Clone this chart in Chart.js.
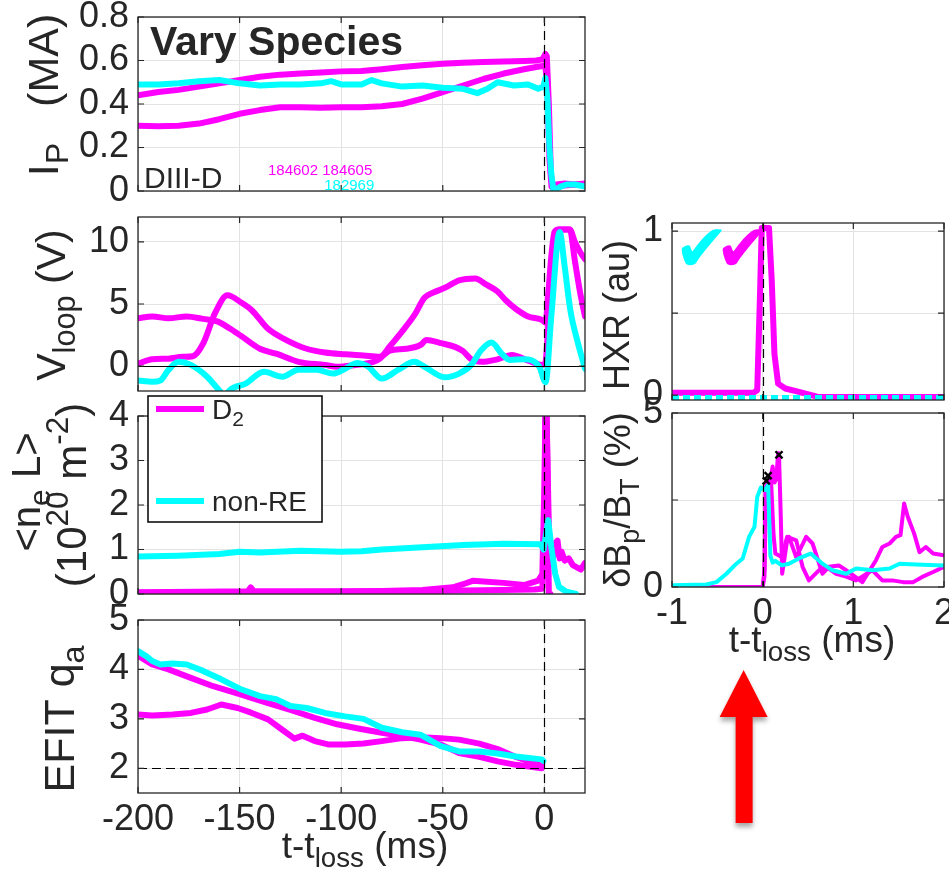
<!DOCTYPE html>
<html>
<head>
<meta charset="utf-8">
<title>Vary Species</title>
<script src="https://cdn.jsdelivr.net/npm/chart.js@4.4.1/dist/chart.umd.min.js"></script>
<style>
  html, body { margin: 0; padding: 0; background: #ffffff; }
  #wrap { position: relative; width: 949px; height: 870px; overflow: hidden; background: #ffffff; }
  #wrap canvas { position: absolute; left: 0; top: 0; }
</style>
</head>
<body>
<div id="wrap">
  <canvas id="cIp" width="949" height="870"></canvas>
  <canvas id="cVl" width="949" height="870"></canvas>
  <canvas id="cNe" width="949" height="870"></canvas>
  <canvas id="cQ" width="949" height="870"></canvas>
  <canvas id="cDb" width="949" height="870"></canvas>
  <canvas id="cHxr" width="949" height="870"></canvas>
</div>
<script>
// ---------------- data: left column, t - t_loss in ms ----------------
// plasma current I_P (MA)
const ipTimeD2a = [-200,-190,-180,-170,-160,-150,-140,-130,-120,-110,-100,-90,-80,-70,-60,-50,-40,-30,-20,-10,-4,-1,0.5,1.2,2.2,3.2,4.3,6,10,15,20];
const ipD2a     = [0.44,0.455,0.465,0.48,0.495,0.51,0.525,0.535,0.54,0.545,0.55,0.552,0.56,0.57,0.578,0.585,0.59,0.593,0.595,0.598,0.6,0.605,0.63,0.62,0.4,0.08,0.01,0.03,0.035,0.03,0.035];
const ipTimeD2b = [-200,-190,-180,-170,-160,-150,-140,-130,-120,-110,-100,-90,-80,-70,-60,-50,-40,-30,-20,-10,-4,-1,0.5,1.5,2.5,3.5,5,10,15,20];
const ipD2b     = [0.30,0.298,0.30,0.31,0.33,0.355,0.372,0.385,0.385,0.383,0.385,0.385,0.39,0.40,0.425,0.455,0.485,0.515,0.54,0.56,0.57,0.575,0.58,0.45,0.15,0.02,0.02,0.025,0.03,0.03];
const ipTimeNonRE = [-200,-190,-180,-170,-160,-150,-140,-130,-120,-110,-105,-100,-90,-85,-80,-70,-60,-50,-40,-33,-28,-23,-15,-8,-3,-0.5,0.5,1.5,2.5,3.4,4.5,6,8,11,15,20];
const ipNonRE     = [0.49,0.49,0.495,0.505,0.51,0.495,0.485,0.49,0.49,0.495,0.505,0.49,0.49,0.51,0.495,0.48,0.485,0.475,0.47,0.45,0.47,0.50,0.485,0.49,0.47,0.48,0.52,0.42,0.2,0.08,0.0,0.01,0.02,0.03,0.03,0.02];

// loop voltage V_loop (V)
const vlTimeD2a = [-200,-193,-185,-176,-168,-161,-155,-149,-140,-132,-121,-108,-102,-93,-85,-81,-76,-70,-64,-59,-55,-49,-42,-34,-29,-23,-19,-14,-8,-1,0.5,2,3.5,5,7,10,12.5,15,17.5,20];
const vlD2a     = [3.85,4.0,3.85,4.0,3.8,3.6,3.05,2.4,1.4,1.0,0.35,0.1,-0.05,0.1,0.3,0.6,1.6,2.8,4.1,5.5,5.9,6.3,6.9,7.05,6.6,6.0,5.3,4.6,4.0,3.7,3.5,6.0,9.0,10.8,11.0,11.0,11.0,10.0,9.2,8.6];
const vlTimeD2b = [-200,-193,-185,-178,-173,-168,-162,-156,-149,-144,-136,-127,-117,-108,-98,-89,-81,-76,-68,-61,-58,-51,-44,-40,-36,-31,-23,-16,-8,-1,0.5,2,3.5,5,7,10,12.5,15,17.5,20];
const vlD2b     = [0.2,0.55,0.6,0.75,0.8,1.8,4.3,5.7,5.1,4.5,3.0,2.1,1.4,1.1,0.95,0.85,0.75,1.25,1.4,1.7,2.1,1.85,1.55,1.2,0.55,0.35,0.55,0.9,0.45,0.1,0.3,3.5,7.5,10.5,11.0,11.0,11.0,8.5,6.0,4.0];
const vlTimeNonRE = [-200,-193,-189,-185,-180,-174,-166,-160,-157,-155,-147,-138,-129,-121,-112,-104,-98,-92,-87,-80,-72,-64,-59,-49,-42,-36,-31,-26,-21,-17,-10,-2.5,0.6,3.4,7.5,10,12.8,16.6,20];
const vlNonRE     = [-1.15,-1.25,-1.15,-0.3,0.35,0.1,-0.85,-1.95,-2.4,-1.95,-1.4,-0.45,-0.85,-0.3,-0.3,-0.6,-0.2,0.25,0.0,-1.0,-0.3,0.35,-0.05,-0.9,-0.6,0.1,1.3,1.9,1.0,0.5,0.55,-0.05,-1.3,4.0,10.8,8.0,4.5,1.8,-0.2];

// line-integrated density <n_e L> (1e20 m^-2)
const neTimeD2a = [-200,-170,-146,-144.5,-143,-120,-100,-80,-60,-45,-40,-35,-30,-20,-10,-3,-1,0,0.8,1.5,2.2,3];
const neD2a     = [0.04,0.05,0.06,0.15,0.06,0.06,0.06,0.07,0.09,0.15,0.22,0.3,0.28,0.25,0.2,0.3,0.45,2.4,5.0,3.0,0.0,0.0];
const neTimeD2b = [-200,-150,-100,-60,-40,-20,-5,-1,0,0.6,1.5,2.5,3.5,4.5,5.5,6.5,7.5,8.5,10,12,14,16,18,20];
const neD2b     = [0.03,0.04,0.05,0.06,0.08,0.09,0.1,0.12,1.0,5.0,3.0,0.9,1.05,0.85,1.15,1.2,0.8,0.95,0.75,0.8,0.65,0.6,0.55,0.7];
const neTimeNonRE = [-200,-180,-160,-150,-140,-120,-100,-90,-80,-60,-40,-20,-2,-0.4,1.9,3.4,5.3,7.2,10.9,15.6];
const neNonRE     = [0.84,0.86,0.9,0.95,0.93,0.97,0.95,0.96,1.0,1.05,1.1,1.13,1.12,1.0,1.66,1.06,0.46,0.16,0.05,0.0];

// edge safety factor q_a from EFIT
const qTimeD2a = [-200,-193,-185,-174,-163,-150,-136,-125,-113,-102,-91,-80,-70,-61,-51,-42,-32,-23,-14,-1.3];
const qD2a     = [4.28,4.1,4.0,3.83,3.66,3.5,3.32,3.18,3.02,2.89,2.8,2.72,2.65,2.58,2.48,2.31,2.23,2.14,2.07,2.0];
const qTimeD2b = [-200,-193,-183,-174,-166,-159,-151,-144,-136,-129,-123,-119,-113,-106,-98,-89,-80,-70,-61,-51,-42,-32,-23,-14,-1.3];
const qD2b     = [3.09,3.07,3.09,3.12,3.19,3.29,3.22,3.12,2.99,2.78,2.6,2.66,2.55,2.48,2.48,2.5,2.55,2.61,2.63,2.61,2.58,2.5,2.39,2.23,2.05];
const qTimeNonRE = [-200,-196,-193,-189,-183,-176,-168,-159,-150,-140,-132,-125,-117,-108,-98,-89,-80,-70,-61,-51,-42,-32,-23,-14,-1.3,-0.5];
const qNonRE     = [4.37,4.27,4.17,4.1,4.12,4.1,3.97,3.8,3.61,3.46,3.4,3.26,3.22,3.12,3.05,3.0,2.82,2.73,2.68,2.45,2.34,2.34,2.30,2.24,2.18,2.15];

// ---------------- data: right column, t - t_loss in ms ----------------
const hxrTimeD2 = [-1,-0.1,-0.06,-0.03,-0.01,0.07,0.1,0.13,0.17,0.25,0.4,0.6,1,2];
const hxrD2     = [0.015,0.015,0.03,0.6,1.02,1.02,0.7,0.25,0.07,0.04,0.02,-0.01,-0.012,-0.012];
const hxrTimeNonRE = [-1,-0.5,0,0.5,1,1.5,2];
const hxrNonRE     = [-0.015,-0.015,-0.015,-0.015,-0.015,-0.015,-0.015];

const dbTimeNonRE = [-1,-0.62,-0.51,-0.40,-0.29,-0.22,-0.15,-0.09,-0.06,-0.02,0.03,0.06,0.085,0.11,0.14,0.21,0.29,0.40,0.53,0.66,0.77,0.92,1.03,1.21,1.40,1.51,1.76,2];
const dbNonRE     = [0.05,0.07,0.14,0.38,0.67,0.82,1.44,1.73,2.59,2.86,2.79,2.93,0.9,0.7,0.75,0.62,0.67,0.82,0.96,0.67,0.48,0.38,0.53,0.48,0.53,0.67,0.64,0.62];
const dbTimeD2a = [-1,-0.5,0.0,0.02,0.04,0.08,0.11,0.13,0.15,0.17,0.18,0.2,0.215,0.27,0.29,0.37,0.48,0.55,0.66,0.73,0.84,0.95,1.1,1.25,1.32,1.40,1.47,1.52,1.56,1.60,1.67,1.73,1.80,1.88,2];
const dbD2a     = [0.0,0.0,0.0,0.5,3.0,3.0,3.46,3.0,3.1,3.84,3.8,2.0,0.38,1.34,1.44,0.86,1.44,1.25,0.38,0.58,0.62,0.43,0.14,0.77,1.15,1.25,1.44,1.49,2.40,2.02,1.54,1.0,1.15,0.96,0.91];
const dbTimeD2b = [-1,0.0,0.02,0.03,0.06,0.09,0.12,0.14,0.21,0.27,0.37,0.44,0.51,0.62,0.70,0.81,0.92,1.03,1.21,1.32,1.43,1.55,1.66,1.76,1.88,2];
const dbD2b     = [0.0,0.0,0.3,2.85,2.9,3.2,1.5,0.96,0.86,1.44,1.34,0.58,0.19,0.48,0.58,0.38,0.3,0.19,0.48,0.19,0.19,0.14,0.14,0.29,0.43,0.58];
const dbPeakTime = [0.04,0.06,0.18];
const dbPeak     = [3.05,3.2,3.8];

// ---------------- ticks ----------------
const tLeftTicks  = [-200,-150,-100,-50,0];
const tLeftLabels = ['-200','-150','-100','-50','0'];
const tRightTicks  = [-1,0,1,2];
const tRightLabels = ['-1','0','1','2'];
const ipTicks = [0,0.2,0.4,0.6,0.8];   const ipLabels = ['0','0.2','0.4','0.6','0.8'];
const vlTicks = [0,5,10];              const vlLabels = ['0','5','10'];
const neTicks = [0,1,2,3,4];           const neLabels = ['0','1','2','3','4'];
const qTicks  = [2,3,4,5];             const qLabels  = ['2','3','4','5'];
const hxrTicks = [0,0.5,1];            const hxrLabels = ['0','','1'];
const dbTicks  = [0,2.5,5];            const dbLabels  = ['0','','5'];

// shot numbers and series names
const shotsD2 = '184602 184605';
const shotsNonRE = '182969';
const nameD2 = 'D2';
const nameNonRE = 'non-RE';

// ---------------- styling ----------------
const FONT = '"Liberation Sans", Arial, Helvetica, sans-serif';
const INK = '#262626';
const GRID = '#e3e3e3';
const MAG = '#ff00ff';
const CYA = '#00ffff';
const TICK_PX = 36, NOTE_PX = 28;
const SUB_SCALE = 0.75;

Chart.defaults.font.family = FONT;
Chart.defaults.color = INK;

function pts(xs, ys) { return xs.map((x, i) => ({ x: x, y: ys[i] })); }

function trace(label, xs, ys, color, width, extra) {
  return Object.assign({
    label: label, data: pts(xs, ys), borderColor: color, backgroundColor: color,
    borderWidth: width, pointRadius: 0, fill: false, tension: 0,
    borderCapStyle: 'round', borderJoinStyle: 'round'
  }, extra || {});
}

// rich text with sub/superscripts, optionally rotated; (x, y) is the baseline centre
function richWidth(ctx, segs, size) {
  let w = 0;
  for (const s of segs) {
    ctx.font = ((s.sub || s.sup) ? size * SUB_SCALE : size) + 'px ' + FONT;
    w += ctx.measureText(s.t).width;
  }
  return w;
}
function drawRich(ctx, segs, x, y, size, rot, align, color) {
  ctx.save();
  ctx.translate(x, y);
  ctx.rotate(rot || 0);
  const w = richWidth(ctx, segs, size);
  let cx = align === 'left' ? 0 : -w / 2;
  ctx.textAlign = 'left';
  ctx.textBaseline = 'alphabetic';
  for (const s of segs) {
    const fs = (s.sub || s.sup) ? size * SUB_SCALE : size;
    ctx.font = fs + 'px ' + FONT;
    ctx.fillStyle = s.color || color || INK;
    const dy = s.sub ? size * 0.24 : (s.sup ? -size * 0.42 : 0);
    ctx.fillText(s.t, cx, dy);
    cx += ctx.measureText(s.t).width;
  }
  ctx.restore();
}

// box, inward tick marks, reference lines, axis titles and notes
const panelChrome = {
  id: 'panelChrome',
  beforeDraw(chart, args, o) {
    if (!o.opaque) return;
    const { ctx, chartArea: a } = chart;
    ctx.save();
    ctx.fillStyle = '#ffffff';
    ctx.fillRect(a.left, a.top, a.right - a.left, a.bottom - a.top);
    ctx.restore();
  },
  afterDatasetsDraw(chart, args, o) {
    const { ctx, chartArea: a } = chart;
    const xs = chart.scales.x, ys = chart.scales.y;
    ctx.save();
    ctx.beginPath();
    ctx.rect(a.left, a.top, a.right - a.left, a.bottom - a.top);
    ctx.clip();
    ctx.strokeStyle = '#000000';
    ctx.lineWidth = 1.2;
    ctx.setLineDash([]);
    for (const v of (o.hSolid || [])) {
      const py = Math.round(ys.getPixelForValue(v)) + 0.5;
      ctx.beginPath(); ctx.moveTo(a.left, py); ctx.lineTo(a.right, py); ctx.stroke();
    }
    ctx.setLineDash([9, 5]);
    for (const v of (o.hDash || [])) {
      const py = Math.round(ys.getPixelForValue(v)) + 0.5;
      ctx.beginPath(); ctx.moveTo(a.left, py); ctx.lineTo(a.right, py); ctx.stroke();
    }
    for (const v of (o.vDash || [])) {
      const px = Math.round(xs.getPixelForValue(v)) + 0.5;
      ctx.beginPath(); ctx.moveTo(px, a.top); ctx.lineTo(px, a.bottom); ctx.stroke();
    }
    ctx.restore();
  },
  afterDraw(chart, args, o) {
    const { ctx, chartArea: a } = chart;
    const xs = chart.scales.x, ys = chart.scales.y;
    ctx.save();
    ctx.setLineDash([]);
    ctx.strokeStyle = INK;
    ctx.lineWidth = 1.3;
    ctx.strokeRect(a.left, a.top, a.right - a.left, a.bottom - a.top);
    const TL = 6;
    ctx.lineWidth = 1.2;
    ctx.beginPath();
    for (const t of xs.ticks) {
      const px = xs.getPixelForValue(t.value);
      ctx.moveTo(px, a.bottom); ctx.lineTo(px, a.bottom - TL);
      ctx.moveTo(px, a.top); ctx.lineTo(px, a.top + TL);
    }
    for (const t of ys.ticks) {
      const py = ys.getPixelForValue(t.value);
      ctx.moveTo(a.left, py); ctx.lineTo(a.left + TL, py);
      ctx.moveTo(a.right, py); ctx.lineTo(a.right - TL, py);
    }
    ctx.stroke();
    for (const tt of (o.yTitles || [])) {
      drawRich(ctx, tt.segs, tt.x, tt.y, tt.size, -Math.PI / 2, 'center');
    }
    if (o.xTitle) drawRich(ctx, o.xTitle.segs, o.xTitle.x, o.xTitle.y, o.xTitle.size, 0, 'center');
    if (o.extra) o.extra(chart, ctx, a, xs, ys);
    ctx.restore();
  }
};

// the scale boxes span the whole margin so their tick labels are not clipped
function axisX(min, max, tickVals, labels, show, marginBelow) {
  return {
    type: 'linear', min: min, max: max,
    afterBuildTicks: s => { s.ticks = tickVals.map(v => ({ value: v })); },
    afterFit: s => { s.height = marginBelow; s.paddingLeft = 0; s.paddingRight = 0; },
    ticks: {
      display: show, autoSkip: false, maxRotation: 0, padding: 5,
      font: { family: FONT, size: TICK_PX }, color: INK,
      callback: (v, i) => labels[i]
    },
    grid: { color: GRID, lineWidth: 1, drawTicks: false },
    border: { display: false }
  };
}
function axisY(min, max, tickVals, labels, marginLeft) {
  return {
    type: 'linear', min: min, max: max,
    afterBuildTicks: s => { s.ticks = tickVals.map(v => ({ value: v })); },
    afterFit: s => { s.width = marginLeft; s.paddingTop = 0; s.paddingBottom = 0; },
    ticks: {
      display: true, autoSkip: false, padding: 9,
      font: { family: FONT, size: TICK_PX }, color: INK,
      callback: (v, i) => labels[i]
    },
    grid: { color: GRID, lineWidth: 1, drawTicks: false },
    border: { display: false }
  };
}

function makePanel(id, box, xr, yr, datasets, chrome) {
  return new Chart(document.getElementById(id), {
    type: 'line',
    data: { datasets: datasets },
    options: {
      responsive: false, animation: false, devicePixelRatio: 1,
      layout: { autoPadding: false, padding: { left: 0, top: box.t, right: 949 - box.r, bottom: 0 } },
      scales: {
        x: axisX(xr.min, xr.max, xr.ticks, xr.labels, xr.show, 870 - box.b),
        y: axisY(yr.min, yr.max, yr.ticks, yr.labels, box.l)
      },
      plugins: { legend: { display: false }, tooltip: { enabled: false }, title: { display: false }, panelChrome: chrome }
    },
    plugins: [panelChrome]
  });
}

const xTitleSegs = [{ t: 't-t' }, { t: 'loss', sub: 1 }, { t: ' (ms)' }];
const T0 = [0];
const xLeft = (show) => ({ min: -200, max: 20, ticks: tLeftTicks, labels: tLeftLabels, show: show });
const xRight = (show) => ({ min: -1, max: 2, ticks: tRightTicks, labels: tRightLabels, show: show });

// ---- I_P ----
makePanel('cIp', { l: 138, t: 17, r: 585, b: 191 }, xLeft(false),
  { min: 0, max: 0.8, ticks: ipTicks, labels: ipLabels },
  [
    trace(nameNonRE, ipTimeNonRE, ipNonRE, CYA, 6),
    trace(nameD2, ipTimeD2a, ipD2a, MAG, 6),
    trace(nameD2, ipTimeD2b, ipD2b, MAG, 6)
  ],
  {
    vDash: T0,
    yTitles: [{ segs: [{ t: 'I' }, { t: 'P', sub: 1 }, { t: '   (MA)' }], x: 58, y: 95, size: 43 }],
    extra: (chart, ctx, a) => {
      ctx.fillStyle = INK;
      ctx.textAlign = 'left';
      ctx.textBaseline = 'alphabetic';
      ctx.font = 'bold 41px ' + FONT;
      ctx.fillText('Vary Species', a.left + 12, a.top + 38);
      ctx.font = '30px ' + FONT;
      ctx.fillText('DIII-D', a.left + 6, a.bottom - 3);
      ctx.font = '15px ' + FONT;
      ctx.fillStyle = MAG;
      ctx.fillText(shotsD2, a.left + 130, a.bottom - 16);
      ctx.fillStyle = CYA;
      ctx.textAlign = 'right';
      ctx.fillText(shotsNonRE, a.left + 132 + ctx.measureText(shotsD2).width, a.bottom - 1);
    }
  });

// ---- V_loop ----
const vlStyle = { cubicInterpolationMode: 'monotone' };
makePanel('cVl', { l: 138, t: 217, r: 585, b: 391 }, xLeft(false),
  { min: -2, max: 12, ticks: vlTicks, labels: vlLabels },
  [
    trace(nameNonRE, vlTimeNonRE, vlNonRE, CYA, 6, vlStyle),
    trace(nameD2, vlTimeD2a, vlD2a, MAG, 6, vlStyle),
    trace(nameD2, vlTimeD2b, vlD2b, MAG, 6, vlStyle)
  ],
  {
    vDash: T0, hSolid: [0],
    yTitles: [{ segs: [{ t: 'V' }, { t: 'loop', sub: 1 }, { t: ' (V)' }], x: 65, y: 305, size: 41 }]
  });

// ---- <n_e L> ----
makePanel('cNe', { l: 138, t: 416, r: 585, b: 594 }, xLeft(false),
  { min: 0, max: 4, ticks: neTicks, labels: neLabels },
  [
    trace(nameNonRE, neTimeNonRE, neNonRE, CYA, 6),
    trace(nameD2, neTimeD2a, neD2a, MAG, 6),
    trace(nameD2, neTimeD2b, neD2b, MAG, 6)
  ],
  {
    vDash: T0,
    yTitles: [
      { segs: [{ t: '<n' }, { t: 'e', sub: 1 }, { t: ' L>' }], x: 40, y: 492, size: 40 },
      { segs: [{ t: '(10' }, { t: '20', sup: 1 }, { t: ' m' }, { t: '-2', sup: 1 }, { t: ')' }], x: 86, y: 495, size: 42 }
    ],
    extra: (chart, ctx) => {
      // legend: one entry per species
      const entries = [
        { ds: chart.data.datasets[1], segs: [{ t: nameD2.charAt(0) }, { t: nameD2.slice(1), sub: 1 }], y: 409 },
        { ds: chart.data.datasets[0], segs: [{ t: nameNonRE }], y: 501 }
      ];
      ctx.fillStyle = '#ffffff';
      ctx.fillRect(148, 396, 174, 126);
      ctx.strokeStyle = '#000000';
      ctx.lineWidth = 1.5;
      ctx.strokeRect(148, 396, 174, 126);
      for (const e of entries) {
        ctx.strokeStyle = e.ds.borderColor;
        ctx.lineWidth = 6;
        ctx.lineCap = 'butt';
        ctx.beginPath(); ctx.moveTo(156, e.y); ctx.lineTo(204, e.y); ctx.stroke();
        drawRich(ctx, e.segs, 212, e.y + 10, NOTE_PX, 0, 'left', INK);
      }
    }
  });

// ---- q_a ----
makePanel('cQ', { l: 138, t: 620, r: 585, b: 793 }, xLeft(true),
  { min: 1.5, max: 5, ticks: qTicks, labels: qLabels },
  [
    trace(nameNonRE, qTimeNonRE, qNonRE, CYA, 6),
    trace(nameD2, qTimeD2a, qD2a, MAG, 6),
    trace(nameD2, qTimeD2b, qD2b, MAG, 6)
  ],
  {
    vDash: T0, hDash: [2],
    yTitles: [{ segs: [{ t: 'EFIT q' }, { t: 'a', sub: 1 }], x: 74, y: 719, size: 43 }],
    xTitle: { segs: xTitleSegs, x: 365, y: 858, size: 37 }
  });

// ---- dB_p / B_T ----
makePanel('cDb', { l: 672, t: 413, r: 944, b: 587 }, xRight(true),
  { min: 0, max: 5, ticks: dbTicks, labels: dbLabels },
  [
    { type: 'scatter', label: 'peak', data: pts(dbPeakTime, dbPeak), pointStyle: 'crossRot', pointRadius: 5,
      borderColor: '#000000', borderWidth: 2.4, showLine: false },
    trace(nameNonRE, dbTimeNonRE, dbNonRE, CYA, 4),
    trace(nameD2, dbTimeD2a, dbD2a, MAG, 4),
    trace(nameD2, dbTimeD2b, dbD2b, MAG, 4)
  ],
  {
    vDash: T0,
    yTitles: [{ segs: [{ t: '\u03b4B' }, { t: 'p', sub: 1 }, { t: '/B' }, { t: 'T', sub: 1 }, { t: ' (%)' }], x: 630, y: 500, size: 36 }],
    xTitle: { segs: xTitleSegs, x: 812, y: 652, size: 37 },
    extra: (chart, ctx, a, xs) => {
      // arrow pointing up at the onset time
      const ax = xs.getPixelForValue(-0.21);
      ctx.save();
      ctx.fillStyle = '#ff0000';
      ctx.shadowColor = 'rgba(0,0,0,0.35)';
      ctx.shadowBlur = 5;
      ctx.shadowOffsetY = 4;
      ctx.beginPath();
      ctx.moveTo(ax, 670);
      ctx.lineTo(ax + 24, 717);
      ctx.lineTo(ax + 9, 717);
      ctx.lineTo(ax + 9, 823);
      ctx.lineTo(ax - 8, 823);
      ctx.lineTo(ax - 8, 717);
      ctx.lineTo(ax - 24, 717);
      ctx.closePath();
      ctx.fill();
      ctx.restore();
    }
  });

// ---- HXR (drawn last, its white axes sit above the panel below) ----
makePanel('cHxr', { l: 672, t: 223, r: 944, b: 400 }, xRight(false),
  { min: -0.03, max: 1.05, ticks: hxrTicks, labels: hxrLabels },
  [
    trace(nameNonRE, hxrTimeNonRE, hxrNonRE, CYA, 5, { borderDash: [7, 4], borderCapStyle: 'butt' }),
    trace(nameD2, hxrTimeD2, hxrD2, MAG, 6)
  ],
  {
    opaque: true, vDash: T0,
    yTitles: [{ segs: [{ t: 'HXR (au)' }], x: 629, y: 315, size: 36 }],
    extra: (chart, ctx, a) => {
      // runaway signature seen for both species
      ctx.textAlign = 'left';
      ctx.textBaseline = 'alphabetic';
      ctx.font = '66px "DejaVu Sans", sans-serif';
      ctx.fillStyle = CYA;
      ctx.fillText('\u2714', a.left + 2, a.top + 48);
      ctx.fillStyle = MAG;
      ctx.fillText('\u2714', a.left + 43, a.top + 48);
    }
  });
</script>
</body>
</html>
